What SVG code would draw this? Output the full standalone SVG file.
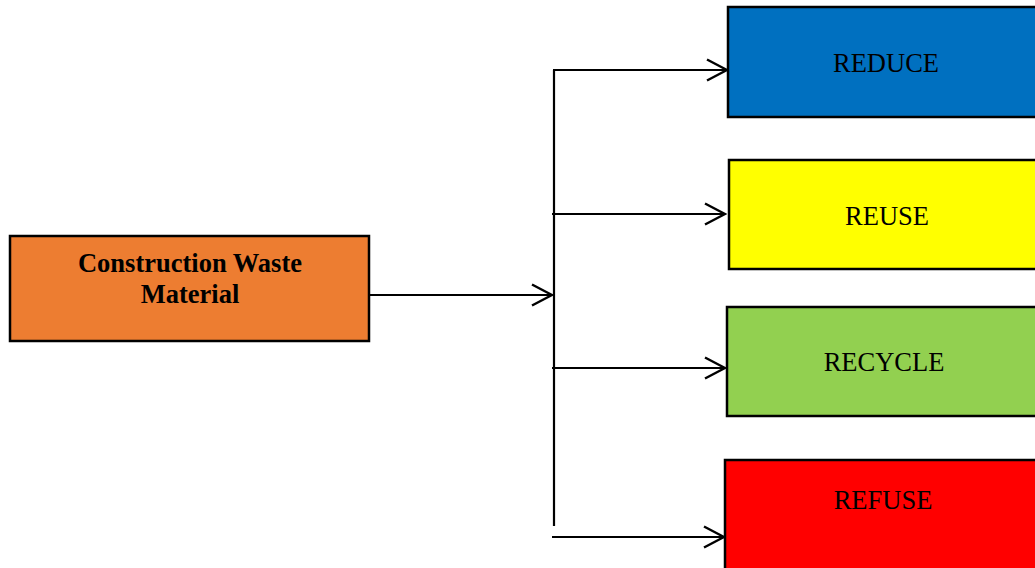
<svg xmlns="http://www.w3.org/2000/svg" width="1035" height="568" viewBox="0 0 1035 568">
<style>
.box{stroke:#000;stroke-width:2.5}
.t{font-family:"Liberation Serif","Times New Roman",serif;font-size:26.5px;fill:#000;text-anchor:middle}
.b{font-weight:bold;font-size:26.5px}
.c{stroke:#000;stroke-width:2.2;fill:none}
</style>
<defs>
<marker id="ah" viewBox="0 0 24 24" refX="22" refY="12" markerWidth="24" markerHeight="24" markerUnits="userSpaceOnUse" orient="auto">
<path d="M2,1.5 L22,12 L2,22.5" fill="none" stroke="#000" stroke-width="2.5"/>
</marker>
</defs>
<rect width="1035" height="568" fill="#fff"/>
<g id="source">
<rect class="box" x="10" y="236" width="359" height="105" fill="#ED7D31"/>
<text class="t b" x="190" y="272">Construction Waste</text>
<text class="t b" x="190" y="303">Material</text>
</g>
<g id="reduce">
<rect class="box" x="728" y="7" width="320" height="110" fill="#0070C0"/>
<text class="t" x="886" y="72">REDUCE</text>
</g>
<g id="reuse">
<rect class="box" x="729" y="160" width="320" height="109" fill="#FFFF00"/>
<text class="t" x="887" y="225">REUSE</text>
</g>
<g id="recycle">
<rect class="box" x="727" y="307" width="320" height="109" fill="#92D050"/>
<text class="t" x="884" y="371">RECYCLE</text>
</g>
<g id="refuse">
<rect class="box" x="725" y="460" width="320" height="120" fill="#FF0000"/>
<text class="t" x="883" y="509">REFUSE</text>
</g>
<g id="connectors">
<line class="c" x1="554" y1="70" x2="554" y2="526"/>
<line class="c" x1="369" y1="295" x2="552" y2="295" marker-end="url(#ah)"/>
<line class="c" x1="553" y1="70" x2="727" y2="70" marker-end="url(#ah)"/>
<line class="c" x1="552" y1="214" x2="725" y2="214" marker-end="url(#ah)"/>
<line class="c" x1="552" y1="368" x2="725" y2="368" marker-end="url(#ah)"/>
<line class="c" x1="552" y1="537" x2="724" y2="537" marker-end="url(#ah)"/>
</g>
</svg>
